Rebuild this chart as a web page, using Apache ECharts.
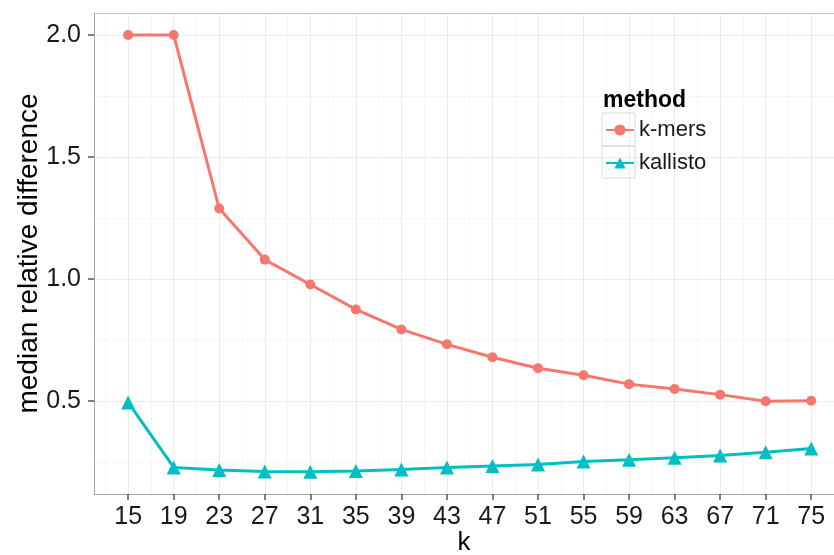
<!DOCTYPE html>
<html>
<head>
<meta charset="utf-8">
<script src="https://cdn.jsdelivr.net/npm/echarts@6/dist/echarts.min.js"></script>
<style>
  html, body { margin: 0; padding: 0; background: #fff; }
  #chart { width: 834px; height: 555px; }
</style>
</head>
<body>
<div id="chart"></div>
<script>
// k-mer length on the x axis
const kValues = [15, 19, 23, 27, 31, 35, 39, 43, 47, 51, 55, 59, 63, 67, 71, 75];
// median relative difference per method
const kmersValues = [2.0, 2.0, 1.289, 1.080, 0.978, 0.876, 0.794, 0.733, 0.680, 0.635, 0.606, 0.570, 0.550, 0.527, 0.500, 0.502];
const kallistoValues = [0.495, 0.229, 0.218, 0.212, 0.211, 0.214, 0.220, 0.229, 0.235, 0.241, 0.253, 0.260, 0.268, 0.278, 0.291, 0.306];
// axis breaks
const xBreaks = [15, 19, 23, 27, 31, 35, 39, 43, 47, 51, 55, 59, 63, 67, 71, 75];
const xMinorBreaks = [13, 17, 21, 25, 29, 33, 37, 41, 45, 49, 53, 57, 61, 65, 69, 73, 77];
const yBreaks = [0.5, 1.0, 1.5, 2.0];
const yMinorBreaks = [0.25, 0.75, 1.25, 1.75];

const RED = '#F8766D';
const TEAL = '#00BFC4';
const FONT = '"Liberation Sans", Arial, sans-serif';

const chart = echarts.init(document.getElementById('chart'), null, { renderer: 'canvas' });

const pairs = (xs, ys) => xs.map((x, i) => [x, ys[i]]);

const hiddenAxisParts = {
  axisLine: { show: false },
  axisTick: { show: false },
  axisLabel: { show: false }
};

chart.setOption({
  animation: false,
  backgroundColor: '#ffffff',
  textStyle: { fontFamily: FONT },
  grid: {
    left: 94, top: 13, right: 0, bottom: 61,
    show: false,
    containLabel: false,
    outerBoundsMode: 'none'
  },
  title: {
    text: 'method',
    left: 603, top: 89, padding: 0,
    textStyle: { fontFamily: FONT, fontSize: 23, fontWeight: 'bold', color: '#000' }
  },
  legend: {
    orient: 'vertical',
    left: 605, top: 119, padding: 0,
    itemWidth: 28, itemHeight: 14,
    itemGap: 11,
    data: ['k-mers', 'kallisto'],
    textStyle: { fontFamily: FONT, fontSize: 22, color: '#1a1a1a', padding: [0, 0, 0, 0] }
  },
  graphic: [
    { type: 'rect', shape: { x: 602, y: 113, width: 33, height: 33 }, style: { fill: 'none', stroke: '#d9d9d9', lineWidth: 1 }, z: 1 },
    { type: 'rect', shape: { x: 602, y: 146, width: 33, height: 32 }, style: { fill: 'none', stroke: '#d9d9d9', lineWidth: 1 }, z: 1 }
  ],
  xAxis: [
    {
      type: 'value', min: 12, max: 77,
      name: 'k', nameLocation: 'middle', nameGap: 36, nameMoveOverlap: false,
      nameTextStyle: { fontFamily: FONT, fontSize: 26, color: '#000' },
      axisLine: { show: true, lineStyle: { color: '#a6a6a6', width: 1 } },
      axisTick: { show: true, length: 6, customValues: xBreaks, lineStyle: { color: '#555', width: 1.5 } },
      axisLabel: { show: true, customValues: xBreaks, margin: 11, fontFamily: FONT, fontSize: 25, color: '#1a1a1a' },
      splitLine: { show: true, lineStyle: { color: '#ebebeb', width: 1 } }
    },
    {
      type: 'value', min: 12, max: 77, position: 'bottom',
      ...hiddenAxisParts,
      axisTick: { show: false, customValues: xMinorBreaks },
      splitLine: { show: true, lineStyle: { color: '#f6f6f6', width: 1 } }
    },
    {
      // panel border along the top edge
      type: 'value', min: 12, max: 77, position: 'top',
      axisLine: { show: true, onZero: false, lineStyle: { color: '#c4c4c4', width: 1 } },
      axisTick: { show: false },
      axisLabel: { show: false },
      splitLine: { show: false }
    }
  ],
  yAxis: [
    {
      type: 'value', min: 0.12, max: 2.09,
      name: 'median relative difference', nameLocation: 'middle', nameGap: 51, nameMoveOverlap: false,
      nameTextStyle: { fontFamily: FONT, fontSize: 28, color: '#000' },
      axisLine: { show: true, onZero: false, lineStyle: { color: '#a6a6a6', width: 1 } },
      axisTick: { show: true, length: 6, customValues: yBreaks, lineStyle: { color: '#555', width: 1.5 } },
      axisLabel: {
        show: true, customValues: yBreaks, margin: 13,
        fontFamily: FONT, fontSize: 25, color: '#1a1a1a',
        formatter: v => v.toFixed(1)
      },
      splitLine: { show: true, lineStyle: { color: '#ebebeb', width: 1 } }
    },
    {
      type: 'value', min: 0.12, max: 2.09, position: 'left',
      ...hiddenAxisParts,
      axisTick: { show: false, customValues: yMinorBreaks },
      splitLine: { show: true, lineStyle: { color: '#f6f6f6', width: 1 } }
    }
  ],
  series: [
    {
      name: 'k-mers', type: 'line',
      xAxisIndex: 0, yAxisIndex: 0,
      data: pairs(kValues, kmersValues),
      symbol: 'circle', symbolSize: 10,
      lineStyle: { color: RED, width: 3 },
      itemStyle: { color: RED },
      z: 3
    },
    {
      name: 'kallisto', type: 'line',
      xAxisIndex: 0, yAxisIndex: 0,
      data: pairs(kValues, kallistoValues),
      symbol: 'triangle', symbolSize: 14,
      lineStyle: { color: TEAL, width: 3 },
      itemStyle: { color: TEAL },
      z: 3
    }
  ]
});
</script>
</body>
</html>
